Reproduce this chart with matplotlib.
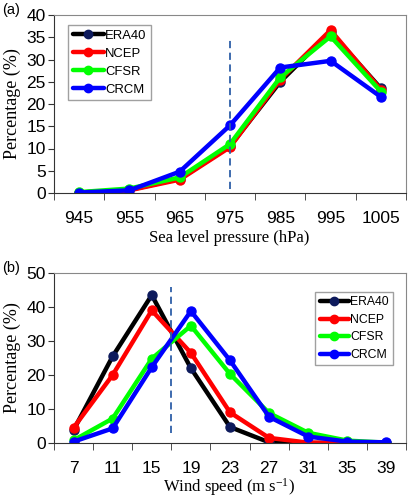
import matplotlib
matplotlib.use("Agg")
import matplotlib.pyplot as plt
import numpy as np

plt.rcParams["mathtext.fontset"] = "custom"
plt.rcParams["mathtext.rm"] = "Liberation Serif"
plt.rcParams["mathtext.it"] = "Liberation Serif:italic"
plt.rcParams["mathtext.default"] = "rm"

slp_labels = ["945", "955", "965", "975", "985", "995", "1005"]
slp_era40 = [0.1, 0.7, 3.2, 10.5, 25.0, 36.2, 23.5]
slp_ncep = [0.1, 0.6, 3.0, 10.3, 25.5, 36.6, 23.2]
slp_cfsr = [0.2, 1.0, 3.5, 11.0, 26.0, 35.2, 22.8]
slp_crcm = [0.1, 0.6, 4.8, 15.2, 28.2, 29.7, 21.6]

ws_labels = ["7", "11", "15", "19", "23", "27", "31", "35", "39"]
ws_era40 = [3.8, 25.5, 43.5, 22.0, 4.7, 0.2, 0.0, 0.0, 0.0]
ws_ncep = [4.5, 20.0, 39.0, 26.5, 9.0, 1.5, 0.1, 0.1, 0.0]
ws_cfsr = [0.8, 7.2, 24.8, 34.5, 20.3, 8.8, 3.0, 0.7, 0.1]
ws_crcm = [0.4, 4.3, 22.3, 38.8, 24.3, 7.7, 1.9, 0.4, 0.2]

names = ["ERA40", "NCEP", "CFSR", "CRCM"]
colors = ["#000000", "#ff0000", "#00ff00", "#0000ff"]
mfc = ["#0d1a5c", "#ff0000", "#00ff00", "#0000ff"]

sans = "Liberation Sans"
serif = "Liberation Serif"

fig = plt.figure(figsize=(4.16, 5.0), dpi=100)
ax1 = fig.add_axes([54/416, 1 - 193/500, 352/416, 178/500])
ax2 = fig.add_axes([54/416, 1 - 443/500, 352/416, 170/500])

def style(ax, labels, ymax, ystep, xlabel, ylab_y):
    n = len(labels)
    ax.set_xlim(-0.5, n - 0.5)
    ax.set_ylim(0, ymax)
    ax.set_xticks(np.arange(n))
    ax.set_xticklabels(labels, fontfamily=sans, fontsize=12.5)
    ax.set_xticks(np.arange(n + 1) - 0.5, minor=True)
    ax.tick_params(axis="x", which="major", length=0, pad=13)
    ax.tick_params(axis="x", which="minor", length=5, direction="out", color="#333333")
    ax.set_yticks(np.arange(0, ymax + 0.1, ystep))
    ax.set_yticklabels([str(int(v)) for v in np.arange(0, ymax + 0.1, ystep)], fontfamily=sans, fontsize=12.5)
    ax.tick_params(axis="y", length=4, direction="out", color="#333333", pad=2)
    for s in ["top", "right"]:
        ax.spines[s].set_color("#888888")
    for s in ["left", "bottom"]:
        ax.spines[s].set_color("#333333")
    ax.set_ylabel("Percentage (%)", fontfamily=serif, fontsize=13, labelpad=4)
    fig.text(229/416, 1 - ylab_y/500, xlabel, fontfamily=serif, fontsize=12, ha="center", va="center")

def draw(ax, series):
    x = np.arange(len(series[0]))
    for vals, c, m, nm in zip(series, colors, mfc, names):
        ax.plot(x, vals, color=c, lw=3.2, marker="o", ms=6.5, mfc=m, mec=m, label=nm, solid_capstyle="round")

def legend(ax, loc, anchor, size):
    leg = ax.legend(loc=loc, bbox_to_anchor=anchor, frameon=True, fancybox=False,
                    edgecolor="#888888", prop={"family": sans, "size": size}, handlelength=2.4,
                    handletextpad=0.1, borderpad=0.35, labelspacing=0.45, borderaxespad=0)
    leg.get_frame().set_linewidth(1.0)
    for h in leg.get_lines():
        h.set_linewidth(3.2)
        h.set_markersize(6)
    return leg

draw(ax1, [slp_era40, slp_ncep, slp_cfsr, slp_crcm])
ax1.plot([3, 3], [1, 34.5], color="#2e5fa8", lw=1.3, ls=(0, (4, 2.5)))
style(ax1, slp_labels, 40, 5, "Sea level pressure (hPa)", 238)
legend(ax1, "upper left", (0.04, 0.944), 9.4)

draw(ax2, [ws_era40, ws_ncep, ws_cfsr, ws_crcm])
ax2.plot([2.5, 2.5], [3, 46], color="#2e5fa8", lw=1.3, ls=(0, (4, 2.5)))
style(ax2, ws_labels, 50, 10, "Wind speed (m s$^{\\mathregular{-1}}$)", 487)
legend(ax2, "upper right", (0.963, 0.888), 8.8)

fig.text(2/416, 1 - 10/500, "(a)", fontfamily=sans, fontsize=10.5, va="center")
fig.text(2/416, 1 - 268/500, "(b)", fontfamily=sans, fontsize=10.5, va="center")

fig.savefig("out.png", dpi=100)
